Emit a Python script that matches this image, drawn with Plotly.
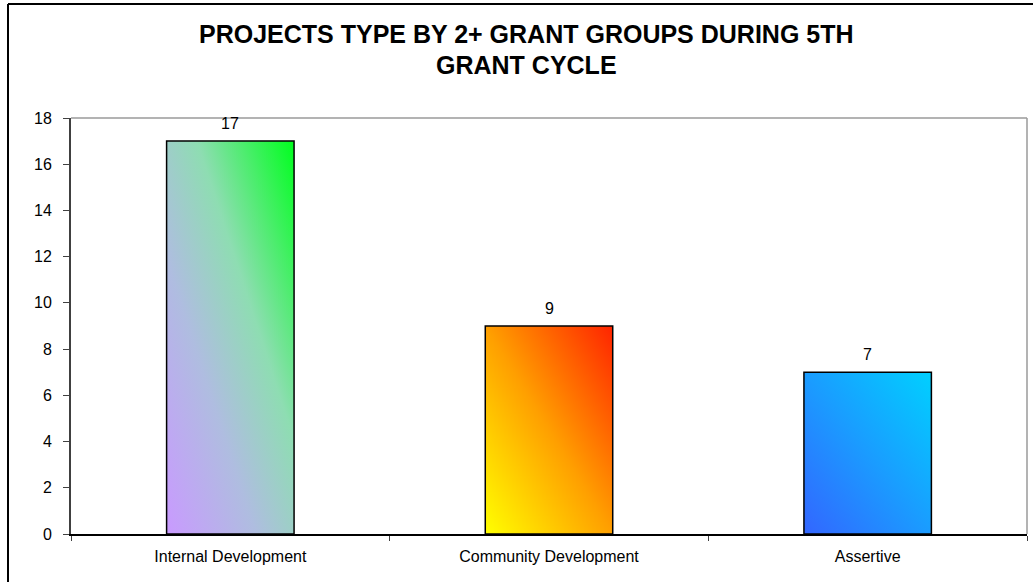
import base64
import plotly.graph_objects as go

# Project counts per project type
categories = ["Internal Development", "Community Development", "Assertive"]
project_counts = [17, 9, 7]

# Diagonal gradient stops (bottom-left -> top-right) for each bar
bar_gradients = [
    [(0.0, "#C99AFF"), (0.35, "#AFBDE0"), (0.62, "#8EDDB2"), (1.0, "#00FF1E")],
    [(0.0, "#FFFF00"), (0.5, "#FF9F00"), (1.0, "#FF2400")],
    [(0.0, "#3366FF"), (0.5, "#1A9CFF"), (1.0, "#00D0FF")],
]

y_ticks = list(range(0, 19, 2))
title_lines = ["PROJECTS TYPE BY 2+ GRANT GROUPS DURING 5TH", "GRANT CYCLE"]

FONT = "Arial, 'Liberation Sans', sans-serif"
BAR_WIDTH = 0.4

# Plot-area geometry in pixels
W, H = 1033, 582
L, R, T, B = 71, 6, 118, 48
PW, PH = W - L - R, H - T - B


def px_to_paper(px, py):
    return (px - L) / PW, (H - B - py) / PH


def gradient_uri(stops):
    stop_xml = "".join(
        f'<stop offset="{o}" stop-color="{c}"/>' for o, c in stops
    )
    svg = (
        '<svg xmlns="http://www.w3.org/2000/svg" width="100" height="100" '
        'viewBox="0 0 100 100" preserveAspectRatio="none">'
        '<defs><linearGradient id="g" x1="0" y1="1" x2="1" y2="0">'
        f"{stop_xml}</linearGradient></defs>"
        '<rect width="100" height="100" fill="url(#g)"/></svg>'
    )
    return "data:image/svg+xml;base64," + base64.b64encode(svg.encode()).decode()


fig = go.Figure()

# Bar outlines; the gradient fills sit underneath as layout images
fig.add_trace(
    go.Bar(
        x=categories,
        y=project_counts,
        width=BAR_WIDTH,
        marker=dict(color="rgba(0,0,0,0)", line=dict(color="#000000", width=1.5)),
        hoverinfo="x+y",
    )
)

images = []
for i, (val, stops) in enumerate(zip(project_counts, bar_gradients)):
    images.append(
        dict(
            source=gradient_uri(stops),
            xref="x",
            yref="y",
            x=i - BAR_WIDTH / 2,
            y=val,
            sizex=BAR_WIDTH,
            sizey=val,
            xanchor="left",
            yanchor="top",
            sizing="stretch",
            layer="below",
        )
    )

annotations = []
for cat, val in zip(categories, project_counts):
    annotations.append(
        dict(
            x=cat,
            y=val,
            xref="x",
            yref="y",
            text=str(val),
            showarrow=False,
            yanchor="bottom",
            yshift=7,
            font=dict(family=FONT, size=16, color="#000000"),
        )
    )

# Two-line bold title, each line centred over the chart
title_x, _ = px_to_paper(526.5, 0)
for line, py in zip(title_lines, [33.5, 64.5]):
    _, ty = px_to_paper(0, py)
    annotations.append(
        dict(
            x=title_x,
            y=ty,
            xref="paper",
            yref="paper",
            text=line,
            showarrow=False,
            xanchor="center",
            yanchor="middle",
            font=dict(family=FONT, size=25, color="#000000", weight="bold"),
        )
    )

# Outer chart frame (left and top edges) and grey plot-area border (top and right)
x_frame, y_frame_top = px_to_paper(8, 4)
_, y_frame_bottom = px_to_paper(8, H)
x_frame_right, _ = px_to_paper(W, 4)
shapes = [
    dict(type="line", xref="paper", yref="paper", x0=x_frame, x1=x_frame,
         y0=y_frame_bottom, y1=y_frame_top, line=dict(color="#000000", width=2)),
    dict(type="line", xref="paper", yref="paper", x0=x_frame, x1=x_frame_right,
         y0=y_frame_top, y1=y_frame_top, line=dict(color="#000000", width=2)),
    dict(type="line", xref="paper", yref="paper", x0=0, x1=1, y0=1, y1=1,
         line=dict(color="#9A9A9A", width=1.5)),
    dict(type="line", xref="paper", yref="paper", x0=1, x1=1, y0=0, y1=1,
         line=dict(color="#9A9A9A", width=1.5)),
]

fig.update_layout(
    width=W,
    height=H,
    margin=dict(l=L, r=R, t=T, b=B, pad=0),
    paper_bgcolor="#FFFFFF",
    plot_bgcolor="rgba(0,0,0,0)",
    showlegend=False,
    bargap=1 - BAR_WIDTH,
    images=images,
    annotations=annotations,
    shapes=shapes,
    xaxis=dict(
        type="category",
        tickson="boundaries",
        ticks="outside",
        ticklen=5,
        tickwidth=1,
        tickcolor="#404040",
        showline=True,
        linecolor="#000000",
        linewidth=1.5,
        showgrid=False,
        tickfont=dict(family=FONT, size=16, color="#000000"),
        ticklabelstandoff=7,
    ),
    yaxis=dict(
        range=[0, 18],
        tickvals=y_ticks,
        ticks="outside",
        ticklen=6,
        tickwidth=1,
        tickcolor="#404040",
        showline=True,
        linecolor="#404040",
        linewidth=2,
        showgrid=False,
        zeroline=False,
        tickfont=dict(family=FONT, size=16, color="#000000"),
        ticklabelstandoff=8,
    ),
)

fig.write_html("out.html")
